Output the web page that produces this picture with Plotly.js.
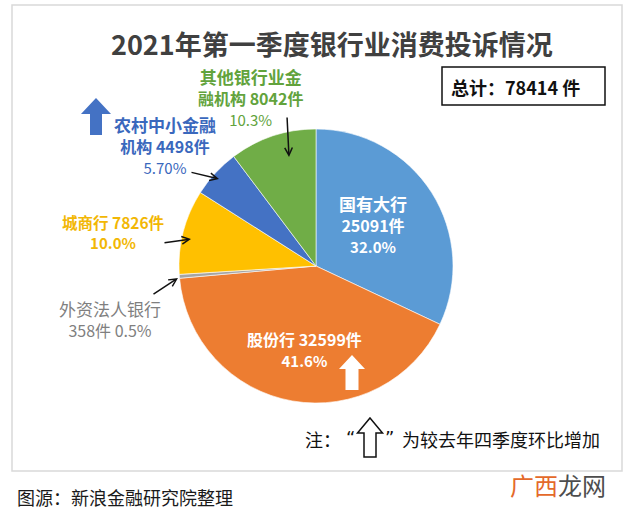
<!DOCTYPE html>
<html>
<head>
<meta charset="utf-8">
<script src="https://cdn.plot.ly/plotly-3.0.1.min.js"></script>
<style>html,body{margin:0;padding:0;background:#fff;}#chart{width:640px;height:512px;}</style>
</head>
<body>
<div id="chart"></div>
<script>
// ---- data ----
const categories = ['国有大行', '股份行', '外资法人银行', '城商行', '农村中小金融机构', '其他银行业金融机构'];
const counts = [25091, 32599, 358, 7826, 4498, 8042];
const pctLabels = ['32.0%', '41.6%', '0.5%', '10.0%', '5.70%', '10.3%'];
const sliceColors = ['#5B9BD5', '#ED7D31', '#A5A5A5', '#FFC000', '#4472C4', '#70AD47'];
const totalCount = 78414;
const titleText = '2021年第一季度银行业消费投诉情况';

// ---- helpers ----
const W = 640, H = 512;
const FONT = '"Noto Sans CJK SC", "Noto Sans", sans-serif';
const px = x => x / W;
const py = y => 1 - y / H;
function ann(text, x, y, size, color, opts) {
  return Object.assign({
    text: text, x: px(x), y: py(y), xref: 'paper', yref: 'paper',
    xanchor: 'center', yanchor: 'middle', showarrow: false,
    font: {family: FONT, size: size, color: color}
  }, opts || {});
}
function arrow(tailX, tailY, headX, headY) {
  return {
    text: '', x: px(headX), y: py(headY), xref: 'paper', yref: 'paper',
    ax: tailX - headX, ay: tailY - headY, showarrow: true,
    arrowhead: 5, arrowsize: 1, arrowwidth: 1.5, arrowcolor: '#111', standoff: 0, startstandoff: 0
  };
}
function upArrow(cx, top, headBase, bottom, headW, shaftW, fill, line) {
  const pts = [[cx, top], [cx + headW / 2, headBase], [cx + shaftW / 2, headBase], [cx + shaftW / 2, bottom],
    [cx - shaftW / 2, bottom], [cx - shaftW / 2, headBase], [cx - headW / 2, headBase]];
  const d = 'M' + pts.map(p => px(p[0]).toFixed(5) + ',' + py(p[1]).toFixed(5)).join(' L') + ' Z';
  return {type: 'path', xref: 'paper', yref: 'paper', path: d, fillcolor: fill,
    line: line ? {color: line, width: 1.5} : {width: 0}};
}
const b = s => '<b>' + s + '</b>';
const sz = (s, n) => '<span style="font-size:' + n + 'px">' + s + '</span>';

const trace = {
  type: 'pie',
  labels: categories,
  values: counts,
  sort: false,
  direction: 'clockwise',
  rotation: 0,
  textinfo: 'none',
  hoverinfo: 'label+value+percent',
  marker: {colors: sliceColors, line: {color: '#ffffff', width: 0.6}},
  domain: {x: [px(179), px(453)], y: [py(403), py(129)]},
  showlegend: false
};

const green = '#62A33C', dblue = '#3A68BD', gold = '#F2B705', gray = '#7F7F7F';

const annotations = [
  ann(b(titleText), 332, 43, 27, '#404040'),
  ann(b('总计：' + totalCount + ' 件'), 515, 87, 18, '#111'),
  // 其他银行业金融机构
  ann(b(sz('其他银行业金', 17)) + '<br>' + b('融机构 ' + counts[5] + '件') + '<br>' + sz(pctLabels[5], 15),
      250, 97, 16, green),
  // 农村中小金融机构
  ann(b(sz('农村中小金融', 17)) + '<br>' + b('机构 ' + counts[4] + '件') + '<br>' + sz(pctLabels[4], 15),
      165, 145, 16, dblue),
  // 城商行
  ann(b(categories[3] + ' ' + counts[3] + '件') + '<br>' + b(sz(pctLabels[3], 15)), 113, 232, 15.5, gold),
  // 外资法人银行
  ann(sz(categories[2], 17) + '<br>' + counts[2] + '件 ' + pctLabels[2], 110, 319, 16, gray),
  // 国有大行
  ann(b(sz(categories[0], 17)) + '<br>' + b(counts[0] + '件') + '<br>' + b(sz(pctLabels[0], 15)), 373, 224, 16, '#fff'),
  // 股份行
  ann(b(categories[1] + ' ' + counts[1] + '件') + '<br>' + b(sz(pctLabels[1], 15)), 304, 349, 16, '#fff'),
  // note
  ann('注：', 303, 439, 18, '#111', {xanchor: 'left'}),
  ann('“', 350, 437, 18, '#111', {font: {family: '"DejaVu Sans", sans-serif', size: 18, color: '#111'}}),
  ann('”', 389, 437, 18, '#111', {font: {family: '"DejaVu Sans", sans-serif', size: 18, color: '#111'}}),
  ann('为较去年四季度环比增加', 400, 439, 18, '#111', {xanchor: 'left'}),
  // source
  ann('图源：新浪金融研究院整理', 15, 497, 18, '#1a1a1a', {xanchor: 'left'}),
  ann('<span style="color:#E4692A">广西</span>龙网', 558, 484, 24, '#4d4d4d'),
  // arrows
  arrow(287, 116, 289, 157),
  arrow(190, 172, 219, 179),
  arrow(163, 243, 191, 239),
  arrow(152, 295, 178, 278)
];

const shapes = [
  {type: 'rect', xref: 'paper', yref: 'paper', x0: px(12), x1: px(622), y0: py(471), y1: py(5),
    line: {color: '#d9d9d9', width: 1.5}, fillcolor: 'rgba(0,0,0,0)', layer: 'below'},
  {type: 'rect', xref: 'paper', yref: 'paper', x0: px(442), x1: px(605), y0: py(105), y1: py(67),
    line: {color: '#111', width: 1.5}, fillcolor: 'rgba(0,0,0,0)'},
  upArrow(96, 98, 114, 135, 30, 12, '#4472C4'),
  upArrow(352, 355, 369, 390, 26, 13, '#ffffff'),
  upArrow(370, 418, 433, 457, 25, 12, '#ffffff', '#111')
];

const layout = {
  width: W, height: H,
  margin: {l: 0, r: 0, t: 0, b: 0},
  paper_bgcolor: '#ffffff',
  showlegend: false,
  annotations: annotations,
  shapes: shapes,
  font: {family: FONT}
};

Plotly.newPlot('chart', [trace], layout, {displayModeBar: false, staticPlot: true});
</script>
</body>
</html>
